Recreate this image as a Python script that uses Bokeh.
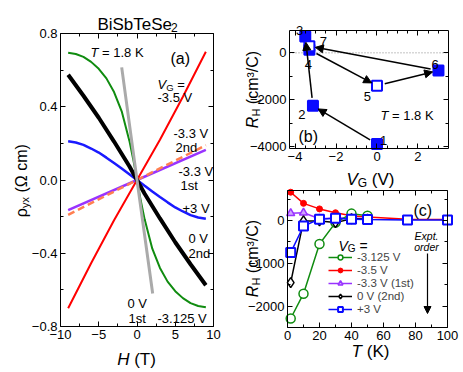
import math
from bokeh.plotting import figure
from bokeh.models import (Range1d, LinearAxis, FixedTicker, CustomJSTickFormatter, Label,
                          Arrow, NormalHead, Legend, LegendItem, ColumnDataSource)
from bokeh.embed import file_html
from bokeh.resources import INLINE

FONT = "Liberation Sans"

# ---------------- data: panel (a) rho_yx vs H at 1.8 K ----------------
H_red = [-9, -6, -3, 0, 3, 6, 9]
rho_red = [-0.70, -0.455, -0.22, 0.0, 0.22, 0.455, 0.70]            # -3.5 V
H_green = [-9, -8, -7, -6, -5, -4, -3, -2, -1, -0.5, 0, 0.5, 1, 2, 3, 4, 5, 6, 7, 8, 9]
rho_green = [0.695, 0.688, 0.672, 0.645, 0.607, 0.555, 0.48, 0.375, 0.215, 0.115, 0.0,
             -0.115, -0.215, -0.375, -0.48, -0.555, -0.607, -0.645, -0.672, -0.688, -0.695]  # -3.125 V
H_black = [-9, -7, -5, -3, -1, 0, 1, 3, 5, 7, 9]
rho_black = [0.575, 0.46, 0.34, 0.21, 0.075, 0.0, -0.075, -0.21, -0.34, -0.46, -0.575]  # 0 V 2nd
H_blue = [-9, -8, -7, -6, -5, -4, -3, -2, -1, 0, 1, 2, 3, 4, 5, 6, 7, 8, 9]
rho_blue = [0.212, 0.205, 0.192, 0.172, 0.15, 0.122, 0.093, 0.063, 0.032, 0.0,
            -0.032, -0.063, -0.093, -0.122, -0.15, -0.172, -0.192, -0.205, -0.212]  # +3 V
H_purple = [-9, 0, 9]
rho_purple = [-0.165, 0.0, 0.165]      # -3.3 V 1st
H_orange = [-9, 0, 9]
rho_orange = [-0.19, 0.0, 0.19]        # -3.3 V 2nd
H_grey = [-2.0, 0, 2.05]
rho_grey = [0.615, 0.0, -0.62]         # 0 V 1st

a_xticks = [-10, -5, 0, 5, 10]
a_xminor = [-7.5, -2.5, 2.5, 7.5]
a_yticks = [-0.8, -0.4, 0.0, 0.4, 0.8]
a_yminor = [-0.6, -0.2, 0.2, 0.6]

# ---------------- data: panel (b) R_H vs V_G sequence ----------------
VG_seq = [0, -3.125, -3.5, -3.3, 0, 3, -3.3]
RH_seq = [-3880, -2255, 700, 130, -1400, -750, 280]
seq_labels = ["1", "2", "3", "4", "5", "6", "7"]
seq_open = [False, False, False, False, True, False, True]
arrow_pairs = [(0, 1), (1, 2), (3, 4), (4, 5), (5, 6)]
b_xticks = [-4, -2, 0, 2]
b_xminor = [-3.5, -3.0, -2.5, -1.5, -1.0, -0.5, 0.5, 1.0, 1.5, 2.5, 3.0]
b_yticks = [-4000, -2000, 0]
b_yminor = [-3000, -1000]

# ---------------- data: panel (c) R_H vs T ----------------
T_short = [2, 10, 20, 30, 40, 50]
T_long = [2, 10, 20, 30, 40, 50, 75, 100]
RH_m3125 = [-2290, -1710, -550, -50, 160, 110]
RH_m35 = [660, 400, 270, 180, 110, 80, 30, 20]
RH_m33 = [170, 180, 40, 60, 60, 40]
RH_0V = [-1450, -10, -10, -50, 40, 30]
RH_p3 = [-750, -130, 30, 50, 30, 20, 10, 10]
c_labels = ["-3.125 V", "-3.5 V", "-3.3 V (1st)", "0 V (2nd)", "+3 V"]
c_xticks = [0, 20, 40, 60, 80, 100]
c_xminor = [10, 30, 50, 70, 90]
c_yticks = [-2000, -1000, 0]
c_yminor = [-2500, -1500, -500, 500]

# ---------------- geometry (canvas pixels) ----------------
WC, HC = 460, 370
A = dict(frame=(60, 213, 33, 326), xr=(-10, 10), yr=(-0.8, 0.8))
B = dict(frame=(289, 448, 30, 148), xr=(-4.27, 3.49), yr=(-4070, 950))
C = dict(frame=(287, 447, 190, 327), xr=(0, 100), yr=(-2500, 700))

W = {' ': 278, '(': 333, ')': 333, 'ρ': 578, 'Ω': 768, 'c': 500, 'm': 833, 'y': 500, 'x': 500,
     'R': 722, 'H': 722, '³': 333, '/': 278, 'C': 722, 'V': 667, 'G': 778, 'T': 611, 'K': 667,
     '=': 584, '.': 278, '-': 333, 's': 500, 't': 278, 'n': 556, 'd': 556, 'E': 667, 'p': 556,
     'o': 556, 'r': 333, 'e': 556, 'i': 222, 'a': 556, 'b': 556, 'S': 667, 'B': 667, '+': 584}


def tw(s, size):
    return sum(W.get(ch, 556) for ch in s) * size / 1000.0


def ext_ranges(P):
    L, R, T, Bt = P["frame"]
    x0, x1 = P["xr"]
    y0, y1 = P["yr"]
    sx = (x1 - x0) / (R - L)
    sy = (y1 - y0) / (Bt - T)
    return (Range1d(x0 - L * sx, x1 + (WC - R) * sx),
            Range1d(y0 - (HC - Bt) * sy, y1 + T * sy))


def to_page(P, x, y):
    L, R, T, Bt = P["frame"]
    x0, x1 = P["xr"]
    y0, y1 = P["yr"]
    return (L + (x - x0) / (x1 - x0) * (R - L), T + (y1 - y) / (y1 - y0) * (Bt - T))


p = figure(width=WC, height=HC, x_range=Range1d(0, WC), y_range=Range1d(HC, 0),
           x_axis_type=None, y_axis_type=None, output_backend="svg", toolbar_location=None,
           min_border=0)
p.min_border_left = p.min_border_right = p.min_border_top = p.min_border_bottom = 0
p.outline_line_color = None
p.background_fill_color = "white"
p.border_fill_color = "white"
p.grid.visible = False

xa, ya = ext_ranges(A)
xb, yb = ext_ranges(B)
xc, yc = ext_ranges(C)
p.extra_x_ranges = {"a": xa, "b": xb, "c": xc}
p.extra_y_ranges = {"a": ya, "b": yb, "c": yc}


def rich(x, y, pieces, align="left", vertical=False):
    # pieces: (text, size, style, baseline shift[, extra advance before])
    pieces = [pc if len(pc) == 5 else pc + (0,) for pc in pieces]
    total = sum(tw(t, s) + adv for t, s, st, dy, adv in pieces)
    pos = (x - total / 2 if align == "center" else x) if not vertical else \
          (y + total / 2 if align == "center" else y)
    for t, s, st, dy, adv in pieces:
        lead = len(t) - len(t.lstrip(" "))
        shift = adv + (tw(" " * lead, s) if lead else 0)
        t = t.lstrip(" ")
        pos += -shift if vertical else shift
        if not vertical:
            lx, ly, ang = pos, y + dy, 0.0
            pos += tw(t, s)
        else:
            lx, ly, ang = x + dy, pos, math.pi / 2
            pos -= tw(t, s)
        p.add_layout(Label(x=lx, y=ly, text=t, text_font=FONT, text_font_size=f"{s}px",
                           text_font_style=st, text_align="left", text_baseline="alphabetic",
                           angle=ang, text_color="black"))


def base_style(ax):
    ax.axis_line_color = "black"
    ax.axis_line_width = 1
    ax.major_tick_in = 5
    ax.major_tick_out = 0
    ax.minor_tick_in = 3
    ax.minor_tick_out = 0
    ax.major_tick_line_color = "black"
    ax.minor_tick_line_color = "black"
    ax.major_label_text_font = FONT
    ax.major_label_text_font_size = "13px"
    ax.major_label_text_color = "black"
    ax.major_label_standoff = 3
    ax.axis_label = None


def fmt(n):
    return "return tick.toFixed(%d).replace('-', '\\u2212')" % n


def add_axes(name, P, xt, xm, yt, ym, xfmt, yfmt):
    (x0, x1), (y0, y1) = P["xr"], P["yr"]
    specs = [("below", y0, (x0, x1), xt, xm, xfmt),
             ("above", y1, (x0, x1), xt, xm, None),
             ("left", x0, (y0, y1), yt, ym, yfmt),
             ("right", x1, (y0, y1), yt, ym, None)]
    for side, loc, bnds, t, m, f in specs:
        ax = LinearAxis(x_range_name=name, y_range_name=name, fixed_location=loc, bounds=bnds,
                        ticker=FixedTicker(ticks=t, minor_ticks=m),
                        formatter=CustomJSTickFormatter(code=f if f else "return ''"))
        base_style(ax)
        if f is None:
            ax.major_label_text_font_size = "0px"
            ax.major_label_standoff = 0
        p.add_layout(ax, side)


# ================= panel (a) =================
ka = dict(x_range_name="a", y_range_name="a")
p.line(H_purple, rho_purple, line_color="#9933ff", line_width=2.5, **ka)
p.line(H_orange, rho_orange, line_color="#ff7f50", line_width=2.5, line_dash="7 4", **ka)
p.line(H_red, rho_red, line_color="#ff0000", line_width=2, **ka)
p.line(H_blue, rho_blue, line_color="#1a1aff", line_width=2.5, **ka)
p.line(H_green, rho_green, line_color="#108c10", line_width=2, **ka)
p.line(H_black, rho_black, line_color="black", line_width=4, **ka)
p.line(H_grey, rho_grey, line_color="#aaaaaa", line_width=3, **ka)
add_axes("a", A, a_xticks, a_xminor, a_yticks, a_yminor, fmt(0), fmt(1))

rich(137, 23.5, [("BiSbTeSe", 17, "normal", 0), ("2", 12, "normal", 3.5, -3)], align="center")
rich(136, 359, [("H", 17, "italic", 0), (" (T)", 17, "normal", 0)], align="center")
rich(21, 180, [("ρ", 16, "normal", 0), ("yx", 11, "normal", 3.5), (" (Ω cm)", 16, "normal", 0)],
     align="center", vertical=True)
rich(90, 51.5, [("T", 13, "italic", 0), (" = 1.8 K", 13, "normal", 0)])
rich(170, 57.5, [("(a)", 16, "normal", 0)])
rich(157, 83.7, [("V", 13, "italic", 0), ("G", 9.5, "normal", 3), (" =", 13, "normal", 0)])
for txt, x, ycen in [("-3.5 V", 157, 92), ("-3.3 V", 173, 128), ("2nd", 175, 142),
                     ("-3.3 V", 178, 166), ("1st", 180, 180), ("+3 V", 182, 203),
                     ("0 V", 188, 233), ("2nd", 188, 248), ("0 V", 127, 298), ("1st", 128, 313),
                     ("-3.125 V", 157, 313)]:
    rich(x, ycen + 4.7, [(txt, 13, "normal", 0)])

# ================= panel (b) =================
kb = dict(x_range_name="b", y_range_name="b")
p.line(list(B["xr"]), [0, 0], line_color="#888888", line_dash="1 2", line_width=1, **kb)

for i, j in arrow_pairs:
    x0p, y0p = to_page(B, VG_seq[i], RH_seq[i])
    x1p, y1p = to_page(B, VG_seq[j], RH_seq[j])
    d = math.hypot(x1p - x0p, y1p - y0p)
    ux, uy = (x1p - x0p) / d, (y1p - y0p) / d
    p.add_layout(Arrow(x_start=x0p + 8 * ux, y_start=y0p + 8 * uy,
                       x_end=x1p - 6 * ux, y_end=y1p - 6 * uy, line_color="black", line_width=1.5,
                       end=NormalHead(size=8, fill_color="black", line_color="black", line_width=1)))

src_b = ColumnDataSource(dict(x=VG_seq, y=RH_seq,
                              fill=["white" if o else "#0a0aff" for o in seq_open]))
p.scatter("x", "y", source=src_b, marker="square", size=10, fill_color="fill",
          line_color="#0a0aff", line_width=2, **kb)
add_axes("b", B, b_xticks, b_xminor, b_yticks, b_yminor, fmt(0), fmt(0))

num_off = [(6.6, -8.3), (-11, 4), (-5.7, -11), (-1, 10), (-9.6, 6.4), (-3.3, -10.7), (14, -9)]
for k, lab in enumerate(seq_labels):
    xp, yp = to_page(B, VG_seq[k], RH_seq[k])
    rich(xp + num_off[k][0], yp + num_off[k][1] + 4.7, [(lab, 13, "normal", 0)], align="center")

rich(370, 179, [("V", 17, "italic", 0), ("G", 12, "normal", 3.5), (" (V)", 17, "normal", 0)],
     align="center")
rich(252, 89, [("R", 16, "italic", 0), ("H", 11, "normal", 3.5), (" (cm³/C)", 16, "normal", 0)],
     align="center", vertical=True)
rich(380, 114.7, [("T", 13, "italic", 0), (" = 1.8 K", 13, "normal", 0)])
rich(298, 135.7, [("(b)", 16, "normal", 0)])

# ================= panel (c) =================
kc = dict(x_range_name="c", y_range_name="c")
l_red = p.line(T_long, RH_m35, line_color="#ff0000", line_width=1.5, **kc)
s_red = p.scatter(T_long, RH_m35, marker="circle", size=6, fill_color="#ff0000",
                  line_color="#ff0000", **kc)
l_pur = p.line(T_short, RH_m33, line_color="#9933ff", line_width=1.5, **kc)
s_pur = p.scatter(T_short, RH_m33, marker="triangle", size=8, fill_color="#cfa3ff",
                  line_color="#9933ff", line_width=1.5, **kc)
l_grn = p.line(T_short, RH_m3125, line_color="#108c10", line_width=1.5, **kc)
s_grn = p.scatter(T_short, RH_m3125, marker="circle", size=9, fill_color="white",
                  line_color="#108c10", line_width=1.5, **kc)
l_blk = p.line(T_short, RH_0V, line_color="black", line_width=1.5, **kc)
s_blk = p.scatter(T_short, RH_0V, marker="diamond", size=10, fill_color="white",
                  line_color="black", line_width=1.5, **kc)
l_blu = p.line(T_long, RH_p3, line_color="#0a0aff", line_width=1.5, **kc)
s_blu = p.scatter(T_long, RH_p3, marker="square", size=9, fill_color="white",
                  line_color="#0a0aff", line_width=2, **kc)
add_axes("c", C, c_xticks, c_xminor, c_yticks, c_yminor, fmt(0), fmt(0))

# one single-row legend per series, stacked 13 px apart (tighter than a default text line)
series_r = [(l_grn, s_grn), (l_red, s_red), (l_pur, s_pur), (l_blk, s_blk), (l_blu, s_blu)]
for i, (lab, rr) in enumerate(zip(c_labels, series_r)):
    row_y = 256 + 13.0 * i
    lg = Legend(items=[LegendItem(label=lab, renderers=list(rr))], location=(328, HC - row_y - 7.0),
                label_text_font=FONT, label_text_font_size="11.5px", glyph_width=24, glyph_height=12,
                label_height=12, spacing=0, padding=0, margin=0, label_standoff=5,
                background_fill_alpha=0, border_line_alpha=0)
    p.add_layout(lg)

rich(370, 351, [("T", 17, "italic", 0), (" (K)", 17, "normal", 0)], align="center")
rich(252, 258, [("R", 16, "italic", 0), ("H", 11, "normal", 3.5), (" (cm³/C)", 16, "normal", 0)],
     align="center", vertical=True)
rich(413, 209.7, [("(c)", 16, "normal", 0)])
rich(338, 245, [("V", 14, "italic", 0), ("G", 10, "normal", 3), (" =", 14, "normal", 0)])
rich(426, 235.5, [("Expt.", 10.5, "italic", 0)], align="center")
rich(426, 246.5, [("order", 10.5, "italic", 0)], align="center")
p.add_layout(Arrow(x_start=427, y_start=253, x_end=427, y_end=313, line_color="black", line_width=1.2,
                   end=NormalHead(size=7, fill_color="black", line_color="black", line_width=1)))

open("out.html", "w").write(file_html(p, INLINE))
